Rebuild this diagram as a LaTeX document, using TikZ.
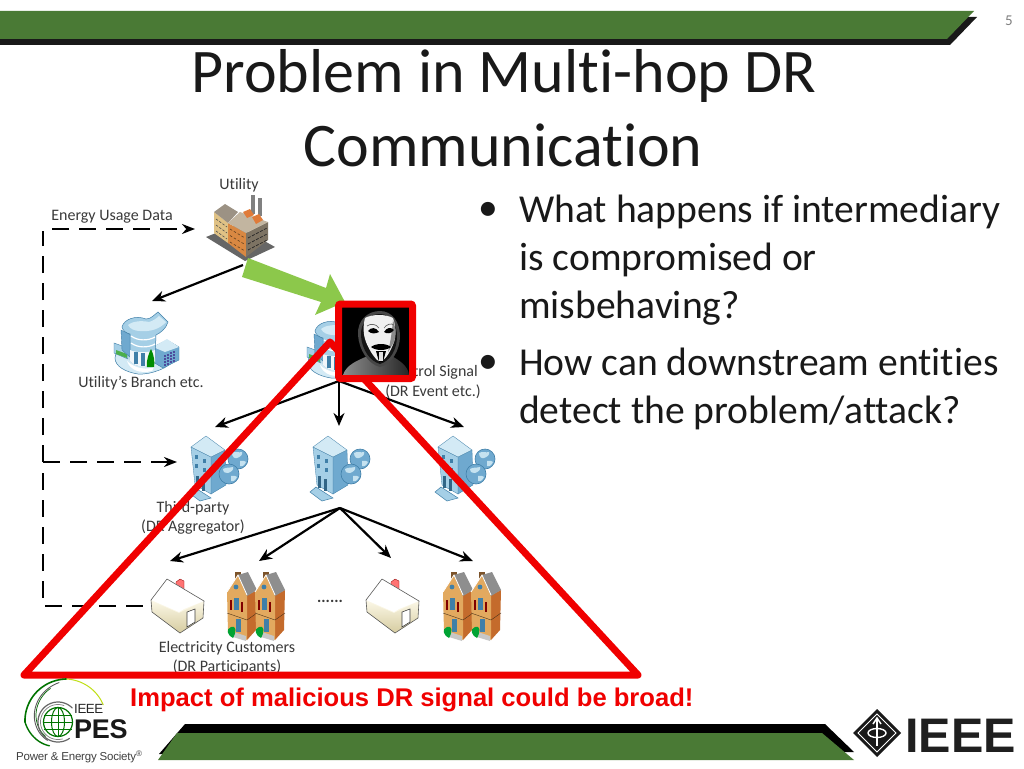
\documentclass[tikz,border=0pt]{standalone}
\usepackage{fontspec}
\setmainfont{Carlito}[RawFeature={-liga;-clig}]
\setsansfont{Liberation Sans}
\usetikzlibrary{arrows.meta}
\definecolor{bannergreen}{HTML}{4A7A35}
\definecolor{arrowgreen}{HTML}{8CC84B}
\definecolor{triared}{HTML}{F00000}
\definecolor{labelgrey}{HTML}{3A3A3A}
\definecolor{skyA}{HTML}{D3EAF5}
\definecolor{skyB}{HTML}{A5CFE6}
\definecolor{skyC}{HTML}{6FA9CF}
\definecolor{skyD}{HTML}{3F7FA8}
\definecolor{brick}{HTML}{C46B2C}
\definecolor{tanface}{HTML}{E2A95F}
\definecolor{roofgrey}{HTML}{8E8E8E}
\definecolor{facA}{HTML}{E0C285}
\definecolor{facB}{HTML}{D98842}
\definecolor{facC}{HTML}{7D7363}
\definecolor{facD}{HTML}{9C9284}
\definecolor{facE}{HTML}{C2B5A0}
\definecolor{facF}{HTML}{E07B39}
\definecolor{creamA}{HTML}{FBF7E6}
\definecolor{creamB}{HTML}{D6CCA0}
\newcommand{\pesspiral}[8]{\draw[line width=#7,#8,line cap=round] plot[smooth,domain=#5:#6,samples=40] ({#1+(#3+(#4-#3)*(\x-#5)/(#6-#5))*cos(\x)},{#2-(#3+(#4-#3)*(\x-#5)/(#6-#5))*sin(\x)});}
\tikzset{
  lab/.style={font=\fontsize{16}{18}\selectfont,text=labelgrey,inner sep=0pt,yshift=-1.5pt},
  title/.style={font=\fontsize{62}{64}\selectfont,text=black!90,inner sep=0pt,anchor=base},
  bul/.style={font=\fontsize{39.6}{41}\selectfont,text=black!90,inner sep=0pt,anchor=base west},
  arr/.style={draw=black,line width=2.2pt,-{Stealth[length=13pt,width=11pt]}},
  dashline/.style={draw=black,line width=2.4pt,dash pattern=on 17pt off 10pt},
  dasharr/.style={dashline,-{Stealth[length=13pt,width=10pt]}},
  officeicon/.pic={
    \fill[skyA,draw=skyD,line width=.5pt] (115,358) .. controls (115,348) and (130,345) .. (150,350) .. controls (165,348) and (176,350) .. (176,358) .. controls (170,368) and (150,375) .. (138,374) .. controls (125,372) and (115,366) .. (115,358) -- cycle;
    % left wings
    \fill[skyB,draw=skyD,line width=.4pt] (114,343) -- (128,348) -- (128,359) -- (114,353) -- cycle;
    \fill[green!55!black!70] (116,350) -- (127,354) -- (127,358) -- (116,354) -- cycle;
    \fill[skyC,draw=skyD,line width=.4pt] (121,330) -- (131,335) -- (131,358) -- (122,350) -- cycle;
    % right block
    \fill[skyC,draw=skyD,line width=.4pt] (153,347) -- (167,340) -- (179,347) -- (179,360) -- (163,368) -- (153,362) -- cycle;
    \fill[skyA] (153,347) -- (167,339) -- (179,347) -- (165,352) -- cycle;
    \foreach \i in {0,1,2,3} \foreach \j in {0,1,2,3} \fill[black!55!blue!70] ({164+3*\i},{355+3*\j-1.4*\i}) rectangle +(1.7,1.9);
    % main tower
    \fill[skyB,draw=skyD,line width=.5pt] (122,327) .. controls (124,319) and (136,315) .. (146,319) .. controls (151,319) and (154,315) .. (158,312) -- (168,322) .. controls (166,329) and (160,333) .. (156,335) -- (155,358) .. controls (150,368) and (135,368) .. (130,360) -- (130,334) .. controls (126,333) and (123,331) .. (122,327) -- cycle;
    \fill[skyA] (128,325) .. controls (134,320) and (145,321) .. (149,322) .. controls (153,321) and (157,318) .. (159,316) -- (166,322) .. controls (160,329) and (150,332) .. (140,331) .. controls (135,331) and (130,329) .. (128,325) -- cycle;
    \draw[white,line width=1.2pt] (131,336) .. controls (138,341) and (148,341) .. (155,337);
    \draw[white,line width=1.2pt] (131,343) .. controls (138,348) and (148,348) .. (155,344);
    \fill[white!90!skyC] (130,350) .. controls (136,353) and (148,353) .. (155,350) -- (155,362) .. controls (148,368) and (136,368) .. (130,361) -- cycle;
    \fill[skyD] (134,352) rectangle (138,364);
    \fill[skyD] (141,353) rectangle (145,366);
    \fill[white] (127,361) .. controls (135,369) and (148,370) .. (154,367) -- (152,371) .. controls (140,374) and (130,370) .. (127,361) -- cycle;
    \fill[green!55!black] (147,367) .. controls (146,360) and (149,353) .. (151,349) .. controls (154,355) and (155,362) .. (154,367) -- cycle;
  },
  towericon/.pic={
    \fill[skyB,draw=skyD,line width=.5pt] (188,492) -- (194,487) -- (211,498) -- (200,501) -- cycle;
    \fill[skyC,draw=skyD,line width=.3pt] (211,457) -- (225,450) -- (226,485) -- (211,494) -- cycle;
    \fill[skyB,draw=skyD,line width=.3pt] (191,447) -- (211,457) -- (211,494) -- (195,485) -- cycle;
    \fill[skyA,draw=skyD,line width=.3pt] (206,436) -- (225,450) -- (211,457) -- (191,447) -- cycle;
    \foreach \i in {0,1} \foreach \j in {0,1} \fill[skyD] ({195+8*\i},{455+9*\j+4*\i}) rectangle +(3,3.6);
    \fill[skyD!80!black] (196,476) rectangle (199,488);
    \fill[skyD!80!black] (202,479) rectangle (205,491);
    \fill[skyC,draw=skyD,line width=.6pt] (238,459) circle (10);
    \fill[skyA!70!skyB] (232,453) .. controls (235,451) and (239,453) .. (242,452) .. controls (243,455) and (240,457) .. (237,458) .. controls (235,459) and (232,457) .. (232,453) -- cycle;
    \fill[skyA!70!skyB] (240,461) .. controls (243,460) and (245,461) .. (246,462) .. controls (245,465) and (242,467) .. (240,466) -- cycle;
    \fill[skyC,draw=skyD,line width=.6pt] (229,474) circle (10);
    \fill[skyA!70!skyB] (223,469) .. controls (226,467) and (230,468) .. (233,467) .. controls (234,470) and (231,472) .. (228,473) .. controls (226,474) and (223,472) .. (223,469) -- cycle;
    \fill[skyA!70!skyB] (231,476) .. controls (234,475) and (236,476) .. (237,477) .. controls (236,480) and (233,482) .. (231,481) -- cycle;
  },
  houseicon/.pic={
    \fill[red!55!white,draw=red!55!black,line width=.3pt] (176,582) -- (180,579) -- (184,581) -- (184,590) -- (176,590) -- cycle;
    \fill[creamA] (151,600) -- (167,579) -- (204,601) -- (203,618) -- (180,633) -- (152,612) -- cycle;
    \shade[bottom color=creamB,top color=creamA] (151,601) -- (179,613) -- (180,633) -- (152,612) -- cycle;
    \shade[bottom color=creamB,top color=creamA] (179,613) -- (204,601) -- (203,618) -- (180,633) -- cycle;
    \fill[white] (151,600) -- (167,579) -- (204,601) -- (184,609) -- (179,612) -- cycle;
    \draw[black!65,line width=.6pt,line join=round] (151,600) -- (167,579) -- (204,601) -- (203,618) -- (180,633) -- (152,612) -- cycle;
    \fill[white,draw=black!75,line width=.6pt] (187,612) -- (195,609) -- (195,622) -- (187,627) -- cycle;
  },
  townunit/.pic={
    \fill[black!35!brown] (235,572) rectangle (241,580);
    \fill[brick] (247,595) -- (257,590) -- (256,630) -- (247,640) -- cycle;
    \fill[tanface] (227,592) -- (238,575) -- (247,595) -- (247,640) -- (228,632) -- cycle;
    \fill[roofgrey] (238,575) -- (248,572) -- (257,590) -- (247,596) -- cycle;
    \draw[white,line width=.8pt] (227,592) -- (238,575) -- (247,595);
    \fill[skyD] (236,587) circle (2.4);
    \fill[skyD] (234,598) rectangle (239,610);
    \fill[red!50!black] (230,600) rectangle (232,610);
    \fill[red!50!black] (241,602) rectangle (243,612);
    \fill[skyD] (236,619) rectangle (241,632);
    \draw[brown!40!black,line width=.4pt] (227,613) -- (247,620) -- (257,613);
    \fill[black!22] (234,632) -- (246,636) -- (246,641) -- (233,637) -- cycle;
    \fill[green!55!black!80!cyan] (231,627) .. controls (236,625) and (237,631) .. (233,638) .. controls (228,636) and (225,629) .. (231,627) -- cycle;
  },
}
\begin{document}
\begin{tikzpicture}[x=1pt,y=-1pt]
\useasboundingbox (0,0) rectangle (1024,768);
\fill[white] (0,0) rectangle (1024,768);
% top banner
\fill[black!90] (0,17) -- (977,17) -- (950,45) -- (0,45) -- cycle;
\fill[bannergreen] (0,11) -- (974,11) -- (947,39) -- (0,39) -- cycle;
\node[font=\fontsize{15}{17}\selectfont,text=black!50,inner sep=0pt] (pagenum) at (1009,21) {5};
% bottom banner
\fill[black] (185,724) -- (825,724) -- (854,752) -- (159,754) -- cycle;
\fill[bannergreen] (177,733) -- (822,733) -- (854,760) -- (158,760) -- cycle;
% title and bullets
\node[title] (t1) at (504,92) {Problem in Multi-hop DR};
\node[title] (t2) at (503,166) {Communication};
\node[bul] (b1dot) at (478,220) {•};
\node[bul] (b1a) at (519,222) {What happens if intermediary};
\node[bul] (b1b) at (519,270) {is compromised or};
\node[bul] (b1c) at (519,318) {misbehaving?};
\node[bul] (b2dot) at (478,373) {•};
\node[bul] (b2a) at (519,375) {How can downstream entities};
\node[bul] (b2b) at (519,423) {detect the problem/attack?};
% factory
\fill[black!60] (206,237) -- (236,225) -- (275,247) -- (245,261) -- cycle;
\fill[black!50] (251,195) rectangle (255,214);
\fill[black!50] (258,198) rectangle (262,216);
\fill[facA] (214,212) -- (228,223) -- (228,243) -- (214,233) -- cycle;
\fill[facB] (228,223) -- (246,233) -- (246,257) -- (228,243) -- cycle;
\fill[facC] (246,233) -- (268,222) -- (268,240) -- (246,257) -- cycle;
\fill[facD] (214,212) -- (225,204) -- (238,212) -- (228,223) -- cycle;
\fill[facE] (228,223) -- (240,212) -- (268,222) -- (246,233) -- cycle;
\fill[facF] (243,212) -- (250,209) -- (254,215) -- (247,218) -- cycle;
\fill[facF] (252,217) -- (259,214) -- (263,220) -- (256,224) -- cycle;
\foreach \k in {0,1,2} {
  \draw[black!70,line width=.6pt,dash pattern=on 2.5pt off 1.5pt] (216,{219+6*\k}) -- (227,{227+6*\k});
  \draw[brown!50!black,line width=.6pt,dash pattern=on 2.5pt off 2pt] (230,{229+6.5*\k}) -- (245,{238+6.5*\k});
  \draw[black!85,line width=.7pt,dash pattern=on 3pt off 1.5pt] (248,{238+6*\k}) -- (267,{228+6*\k});
}
% dashed energy lines
\coordinate (dtl) at (43,231);
\coordinate (dcorner) at (43,462);
\coordinate (dvb) at (43,473);
\coordinate (dbl) at (43,600);
\coordinate (dts) at (52,229);
\coordinate (dthird) at (177,462);
\coordinate (dutil) at (195,229);
\coordinate (dhs) at (45,606);
\coordinate (dhe) at (143,606);
\draw[dashline] (dcorner) -- (dtl);
\draw[dashline] (dvb) -- (dbl);
\draw[dasharr] (dts) -- (dutil);
\draw[dasharr] (dcorner) -- (dthird);
\draw[dashline] (dhs) -- (dhe);
% icons
\pic {officeicon};
\pic[shift={(193,4)}] {officeicon};
\pic {towericon};
\pic[shift={(122,0)}] {towericon};
\pic[shift={(247,0)}] {towericon};
\pic {houseicon};
\pic[shift={(215,0)}] {houseicon};
\pic {townunit};
\pic[shift={(28,0)}] {townunit};
\pic[shift={(216,0)}] {townunit};
\pic[shift={(244,0)}] {townunit};
% labels
\node[lab] (lutil) at (239,184) {Utility};
\node[lab] (leud) at (112,215) {Energy Usage Data};
\node[lab] (lbranch) at (141,382) {Utility’s Branch etc.};
\node[lab,anchor=east] (lctrl) at (478,371) {Control Signal};
\node[lab] (ldr) at (433,390) {(DR Event etc.)};
\node[lab] (lthird) at (193,507) {Third-party};
\node[lab] (lagg) at (193,526) {(DR Aggregator)};
\node[lab,font=\bfseries\fontsize{16}{18}\selectfont] (ldots) at (330,600) {......};
\node[lab] (lcust) at (227,647) {Electricity Customers};
\node[lab] (lpart) at (227,665) {(DR Participants)};
% arrows
\coordinate (cutil) at (243,265);
\coordinate (cbranch) at (152,301);
\coordinate (cmid) at (339,381);
\coordinate (ctl) at (215,427);
\coordinate (ctm) at (339,426);
\coordinate (ctr) at (464,427);
\coordinate (cfan) at (340,508);
\coordinate (c1) at (170,561);
\coordinate (c2) at (259,561);
\coordinate (c3) at (391,558);
\coordinate (c4) at (473,561);
\draw[arr] (cutil) -- (cbranch);
\draw[arr] (cmid) -- (ctl);
\draw[arr] (cmid) -- (ctm);
\draw[arr] (cmid) -- (ctr);
\draw[arr] (cfan) -- (c1);
\draw[arr] (cfan) -- (c2);
\draw[arr] (cfan) -- (c3);
\draw[arr] (cfan) -- (c4);
% green arrow
\fill[arrowgreen] (248,258) -- (326,288) -- (330,274) -- (345,302) -- (315,315) -- (321,302) -- (242,277) -- cycle;
% triangle
\coordinate (apex) at (330,342);
\coordinate (tl) at (24,675);
\coordinate (tr) at (638,675);
\draw[triared,line width=7pt,line join=round] (apex) -- (tl) -- (tr) -- cycle;
% mask picture
\fill[black] (338.5,304) rectangle (412.5,378.5);
\shade[left color=black!45,right color=black!85] (343,375) .. controls (346,365) and (358,360) .. (368,356) -- (392,356) .. controls (398,360) and (408,365) .. (409,375) -- cycle;
\fill[black!72] (358,335) .. controls (357,320) and (368,311) .. (380,311) .. controls (392,311) and (400,322) .. (400,336) .. controls (400,350) and (392,364) .. (380,367) .. controls (368,364) and (359,350) .. (358,335) -- cycle;
\fill[black!92] (361,336) .. controls (360,322) and (370,314) .. (380,314) .. controls (390,314) and (397,324) .. (397,336) .. controls (397,350) and (390,361) .. (380,364) .. controls (370,361) and (362,350) .. (361,336) -- cycle;
\fill[white!94!black] (365,318) .. controls (372,314) and (386,314) .. (393,318) .. controls (396,326) and (396,336) .. (394,342) .. controls (391,350) and (387,358) .. (381,362) .. controls (377,362) and (370,352) .. (366,342) .. controls (363,334) and (363,326) .. (365,318) -- cycle;
\fill[black!45] (393,320) .. controls (396,328) and (396,336) .. (394,342) -- (388,352) .. controls (391,340) and (392,330) .. (393,320) -- cycle;
\fill[black] (368,331) .. controls (371,327) and (376,327) .. (379,332) .. controls (375,334) and (371,334) .. (368,331) -- cycle;
\fill[black] (384,332) .. controls (387,327) and (391,327) .. (394,330) .. controls (391,334) and (387,334) .. (384,332) -- cycle;
\draw[black!60,line width=.7pt] (367,326) .. controls (371,323) and (376,324) .. (379,328) (384,328) .. controls (387,324) and (391,323) .. (394,325);
\fill[black] (371,347) .. controls (376,343) and (386,343) .. (391,347) .. controls (386,351) and (376,351) .. (371,347) -- cycle;
\fill[black] (376,351) -- (386,351) -- (383,362) -- (379,362) -- cycle;
\fill[black!12] (378.5,352) rectangle (383,361);
\draw[triared,line width=7pt,rounded corners=2pt] (338.5,304) rectangle (412.5,378.5);
% red note
\node[font=\sffamily\bfseries\fontsize{25.6}{27}\selectfont,text=triared,inner sep=0pt,anchor=base west] (note) at (130,706) {Impact of malicious DR signal could be broad!};
% PES logo
\pesspiral{66}{722}{41}{43}{25}{90}{1pt}{yellow!75!green}
\pesspiral{66}{722}{43}{41}{90}{180}{1.6pt}{green!45!black}
\pesspiral{66}{722}{41}{29}{180}{235}{1.4pt}{green!45!black}
\pesspiral{66}{722}{40}{26}{100}{225}{.9pt}{black!65}
\pesspiral{66}{722}{37}{25}{115}{215}{.7pt}{green!40!black}
\pesspiral{58}{722}{20}{20}{45}{305}{1.2pt}{black!60}
\pesspiral{58}{722}{17.5}{17.5}{70}{285}{.7pt}{black!50}
\draw[green!45!black,line width=1.2pt] (58,722) circle (14.5);
\draw[green!45!black,line width=1pt] (58,722) ellipse (6.5 and 14.5);
\draw[green!45!black,line width=1pt] (44,715) -- (72,715) (43.5,722) -- (72.5,722) (44,729) -- (72,729) (58,707.5) -- (58,736.5);
\node[font=\sffamily\fontsize{13.3}{14}\selectfont,text=black!85,inner sep=0pt,anchor=base west] (pieee) at (74,713) {\addfontfeature{LetterSpace=-3}IEEE};
\node[font=\sffamily\bfseries\fontsize{27}{27}\selectfont,text=black!90,inner sep=0pt,anchor=base west] (ppes) at (74,738) {\addfontfeature{LetterSpace=-1}PES};
\node[font=\sffamily\fontsize{11.5}{14}\selectfont,text=black!75,inner sep=0pt,anchor=west] (psoc) at (16,757) {\addfontfeature{LetterSpace=-2}Power \& Energy Society\textsuperscript{®}};
% IEEE logo
\fill[black!90] (877,709) -- (901,733) -- (877,757) -- (853,733) -- cycle;
\draw[white,line width=1pt] (877,714) -- (896,733) -- (877,752) -- (858,733) -- cycle;
\draw[white,line width=2pt] (877,719) -- (877,746);
\draw[white,line width=1.5pt] (873,724) -- (877,718) -- (881,724);
\draw[white,line width=1.4pt] (877,733) ellipse (9 and 4.5);
\node[font=\sffamily\bfseries\fontsize{48.5}{49}\selectfont,text=black!88,inner sep=0pt,anchor=base west] (ieee) at (905,752) {IEEE};
\end{tikzpicture}
\end{document}
